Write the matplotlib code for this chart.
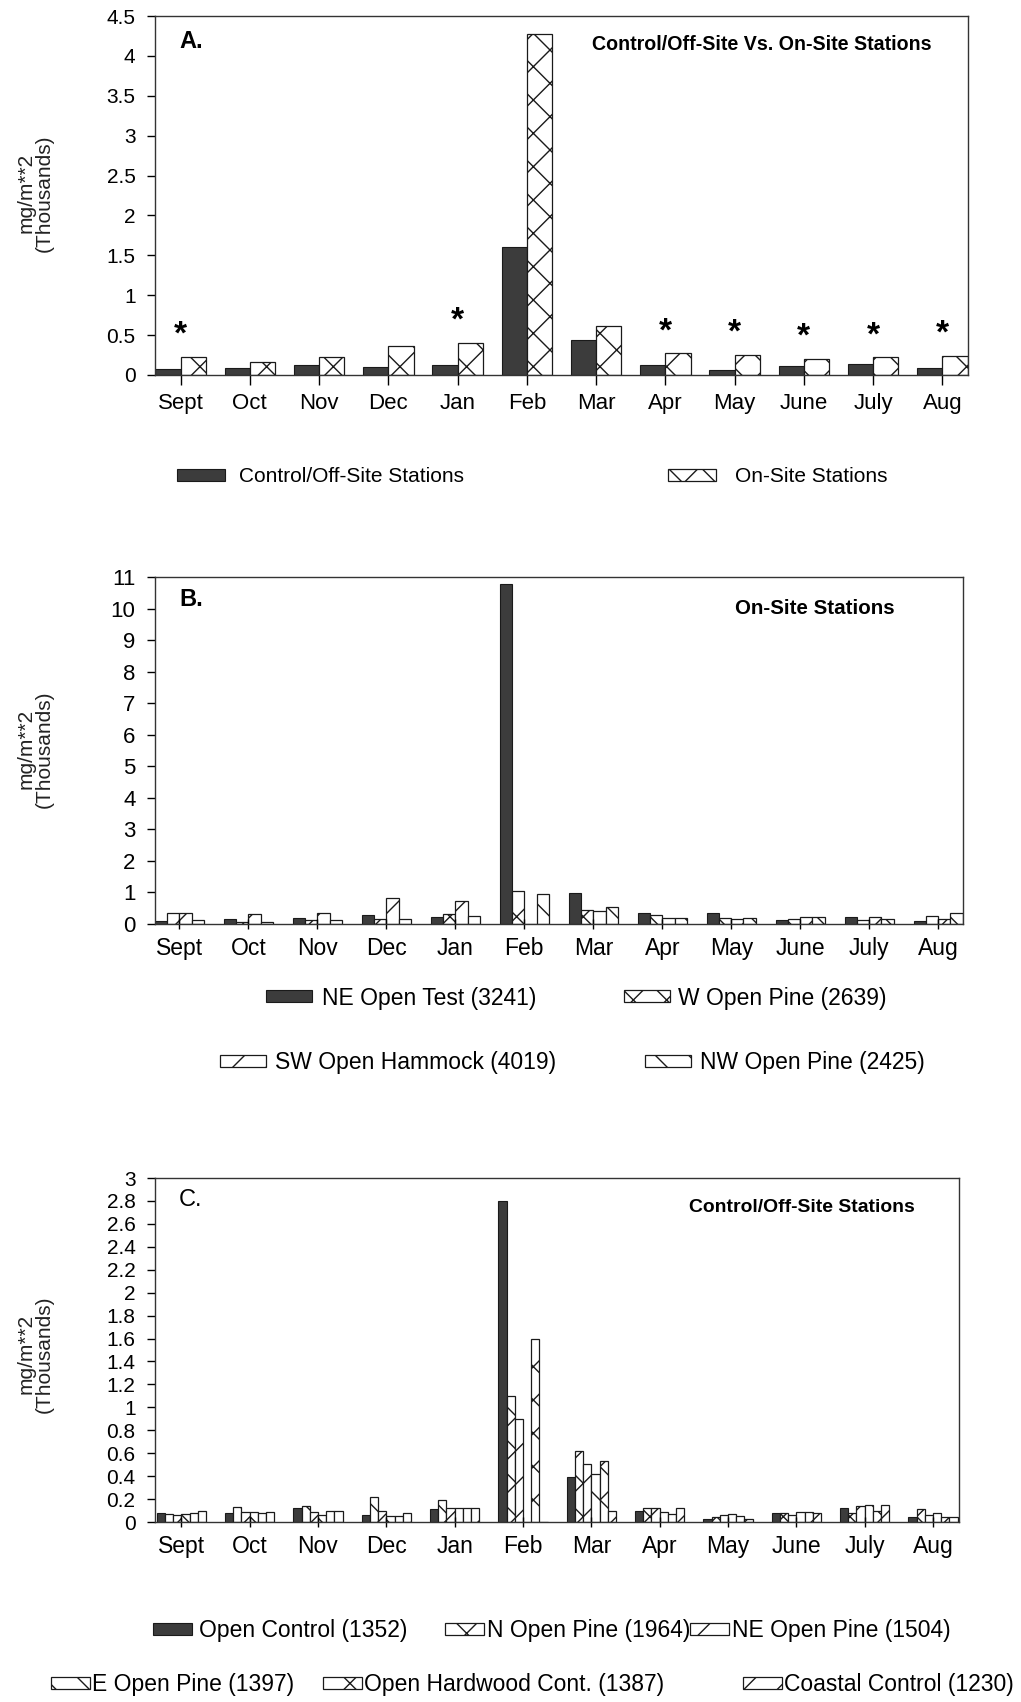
import matplotlib
matplotlib.use("Agg")
import matplotlib.pyplot as plt
from matplotlib.patches import Patch
from matplotlib import font_manager as fm
import numpy as np

# ---------------- data ----------------
months = ['Sept', 'Oct', 'Nov', 'Dec', 'Jan', 'Feb', 'Mar', 'Apr', 'May', 'June', 'July', 'Aug']

a_control = [0.08, 0.09, 0.12, 0.10, 0.13, 1.61, 0.44, 0.12, 0.06, 0.11, 0.14, 0.09]
a_onsite = [0.23, 0.16, 0.22, 0.36, 0.40, 4.27, 0.61, 0.27, 0.25, 0.20, 0.22, 0.24]
a_signif = [True, False, False, False, True, False, False, True, True, True, True, True]

b_ne_test = [0.09, 0.15, 0.20, 0.27, 0.23, 10.79, 0.97, 0.34, 0.34, 0.14, 0.23, 0.11]
b_w_pine = [0.34, 0.07, 0.13, 0.15, 0.33, 1.04, 0.44, 0.30, 0.19, 0.16, 0.13, 0.26]
b_sw_hammock = [0.34, 0.31, 0.35, 0.82, 0.74, 0.0, 0.40, 0.18, 0.16, 0.21, 0.23, 0.16]
b_nw_pine = [0.13, 0.05, 0.13, 0.17, 0.25, 0.95, 0.53, 0.18, 0.18, 0.21, 0.16, 0.34]

c_open_control = [0.08, 0.08, 0.12, 0.06, 0.11, 2.80, 0.39, 0.10, 0.03, 0.08, 0.125, 0.045]
c_n_pine = [0.07, 0.13, 0.14, 0.22, 0.19, 1.10, 0.62, 0.12, 0.04, 0.08, 0.08, 0.11]
c_ne_pine = [0.06, 0.09, 0.09, 0.10, 0.12, 0.90, 0.51, 0.12, 0.06, 0.06, 0.14, 0.06]
c_e_pine = [0.07, 0.09, 0.06, 0.05, 0.12, 0.0, 0.42, 0.09, 0.07, 0.09, 0.15, 0.075]
c_hardwood = [0.08, 0.08, 0.10, 0.05, 0.12, 1.60, 0.53, 0.07, 0.05, 0.09, 0.10, 0.045]
c_coastal = [0.10, 0.09, 0.10, 0.08, 0.12, 0.0, 0.10, 0.12, 0.03, 0.08, 0.145, 0.045]

a_labels = ['Control/Off-Site Stations', 'On-Site Stations']
b_labels = ['NE Open Test (3241)', 'W Open Pine (2639)', 'SW Open Hammock (4019)', 'NW Open Pine (2425)']
c_labels = ['Open Control (1352)', 'N Open Pine (1964)', 'NE Open Pine (1504)',
            'E Open Pine (1397)', 'Open Hardwood Cont. (1387)', 'Coastal Control (1230)']

# ---------------- fonts ----------------
def has_font(name):
    try:
        fm.findfont(fm.FontProperties(family=name), fallback_to_default=False)
        return True
    except Exception:
        return False

BASE = 'Liberation Sans' if has_font('Liberation Sans') else 'DejaVu Sans'
NARROW = 'Liberation Sans Narrow' if has_font('Liberation Sans Narrow') else None
plt.rcParams['font.family'] = [BASE, 'DejaVu Sans']
plt.rcParams['hatch.linewidth'] = 1.0

def narrow_kw(size, weight='normal'):
    if NARROW:
        return dict(family=[NARROW, BASE], fontsize=size, fontweight=weight)
    return dict(family=[BASE], fontsize=size * 0.82, fontweight=weight)

W, H = 1021, 1702
fig = plt.figure(figsize=(W / 100, H / 100), dpi=100)
fig.patch.set_facecolor('white')

def axes_px(left, top, right, bottom):
    return fig.add_axes([left / W, 1 - bottom / H, (right - left) / W, (bottom - top) / H])

DARK = '#3c3c3c'
EDGE = '#1a1a1a'
x = np.arange(len(months))

def style_axes(ax, tick_fs, month_fs, xdir='out'):
    for s in ax.spines.values():
        s.set_linewidth(1.0)
        s.set_color('#333333')
    ax.set_xticks(x)
    ax.set_xticklabels(months)
    ax.tick_params(axis='x', direction=xdir, length=7, width=1, labelsize=month_fs, pad=6)
    ax.tick_params(axis='y', direction='out', length=6, width=1, labelsize=tick_fs, pad=8)
    ax.yaxis.set_major_formatter(matplotlib.ticker.FormatStrFormatter('%g'))

def grouped(ax, series, hatches, gw):
    n = len(series)
    bw = gw / n
    for i, (vals, h) in enumerate(zip(series, hatches)):
        off = -gw / 2 + bw * (i + 0.5)
        if h is None:
            ax.bar(x + off, vals, bw, color=DARK, edgecolor=EDGE, linewidth=0.8)
        else:
            ax.bar(x + off, vals, bw, color='white', edgecolor=EDGE, hatch=h, linewidth=0.9)

def ylab(xpx, ypx, fs):
    fig.text(xpx / W, 1 - ypx / H, 'mg/m**2\n(Thousands)', rotation=90, ha='center',
             va='center', multialignment='center', fontsize=fs, linespacing=0.95, color='#222222')

def legend_entry(label, hatch, xpx, ypx, fs, hl_px, hh_px, gap_px):
    if hatch is None:
        p = Patch(facecolor=DARK, edgecolor=EDGE, linewidth=0.8)
    else:
        p = Patch(facecolor='white', edgecolor=EDGE, hatch=hatch, linewidth=0.9)
    fpx = fs * 100 / 72
    fig.legend([p], [label], loc='center left', bbox_to_anchor=(xpx / W, 1 - ypx / H),
               frameon=False, borderpad=0, borderaxespad=0, fontsize=fs,
               handlelength=hl_px / fpx, handleheight=hh_px / fpx, handletextpad=gap_px / fpx)

# ---------------- Panel A ----------------
axA = axes_px(155, 16, 968, 375)
grouped(axA, [a_control, a_onsite], [None, 'x'], 0.73)
axA.set_xlim(-0.37, 11.37)
axA.set_ylim(0, 4.5)
axA.set_yticks(np.arange(0, 4.51, 0.5))
style_axes(axA, 15, 16, 'out')
for i, (v, s) in enumerate(zip(a_onsite, a_signif)):
    if s:
        axA.text(i, v + 0.08, '*', ha='center', va='bottom', fontsize=24, fontweight='bold')
axA.text(0.03, 0.93, 'A.', transform=axA.transAxes, fontsize=17, fontweight='bold', va='center')
axA.text(0.955, 0.92, 'Control/Off-Site Vs. On-Site Stations', transform=axA.transAxes,
         ha='right', va='center', **narrow_kw(17.2, 'bold'))
ylab(35, 193, 15)
legend_entry(a_labels[0], None, 177, 477, 15, 48, 10, 14)
legend_entry(a_labels[1], 'x', 668, 477, 15, 48, 10, 19)

# ---------------- Panel B ----------------
axB = axes_px(155, 577, 963, 924)
grouped(axB, [b_ne_test, b_w_pine, b_sw_hammock, b_nw_pine], [None, 'x', '/', '\\'], 0.71)
axB.set_xlim(-0.355, 11.36)
axB.set_ylim(0, 11)
axB.set_yticks(np.arange(0, 12, 1))
style_axes(axB, 16, 16.5, 'inout')
axB.text(0.03, 0.935, 'B.', transform=axB.transAxes, fontsize=17, fontweight='bold', va='center')
axB.text(0.915, 0.91, 'On-Site Stations', transform=axB.transAxes,
         ha='right', va='center', **narrow_kw(18, 'bold'))
ylab(35, 749, 15)
legend_entry(b_labels[0], None, 266, 998, 16.5, 46, 10, 10)
legend_entry(b_labels[1], 'x', 624, 998, 16.5, 46, 10, 8)
legend_entry(b_labels[2], '/', 220, 1063, 16.5, 46, 10, 9)
legend_entry(b_labels[3], '\\', 645, 1063, 16.5, 46, 10, 9)

# ---------------- Panel C ----------------
axC = axes_px(155, 1178, 959, 1522)
grouped(axC, [c_open_control, c_n_pine, c_ne_pine, c_e_pine, c_hardwood, c_coastal],
        [None, 'x', '/', '\\', 'x', '/'], 0.72)
axC.set_xlim(-0.385, 11.38)
axC.set_ylim(0, 3)
axC.set_yticks(np.round(np.arange(0, 3.01, 0.2), 1))
style_axes(axC, 15, 16.5, 'inout')
axC.text(0.03, 0.935, 'C.', transform=axC.transAxes, fontsize=17, va='center')
axC.text(0.945, 0.915, 'Control/Off-Site Stations', transform=axC.transAxes,
         ha='right', va='center', **narrow_kw(17, 'bold'))
ylab(35, 1354, 15)
legend_entry(c_labels[0], None, 153, 1631, 16.5, 39, 10, 7)
legend_entry(c_labels[1], 'x', 445, 1631, 16.5, 39, 10, 3)
legend_entry(c_labels[2], '/', 690, 1631, 16.5, 39, 10, 3)
legend_entry(c_labels[3], '\\', 51, 1685, 16.5, 39, 10, 2)
legend_entry(c_labels[4], 'x', 323, 1685, 16.5, 39, 10, 2)
legend_entry(c_labels[5], '/', 743, 1685, 16.5, 39, 10, 2)

fig.savefig('out.png', dpi=100, facecolor='white')
